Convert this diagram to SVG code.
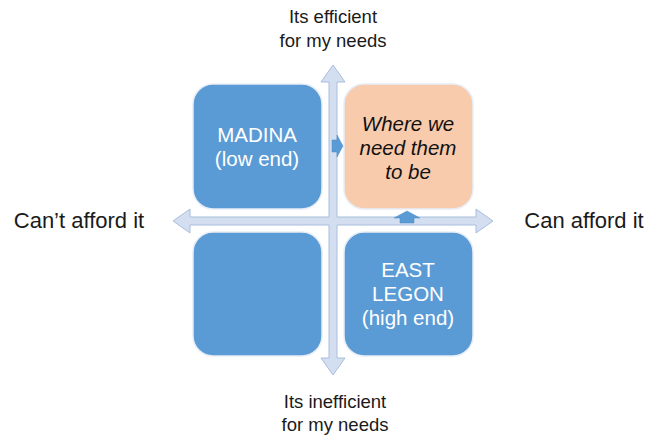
<svg xmlns="http://www.w3.org/2000/svg" width="648" height="437" viewBox="0 0 648 437">
<style>
.axis{fill:#D3DEF0;stroke:#A9BEDD;stroke-width:1}
.box{fill:#5B9BD5;stroke:#E8EEF7;stroke-width:1.5}
.goal{fill:#F8CBAD;stroke:#E8EEF7;stroke-width:1.5}
.pt{fill:#5B9BD5;stroke:#4A8AC6;stroke-width:0.5}
.lbl{font-family:"Liberation Sans",Arial,sans-serif;fill:#1a1a1a;text-anchor:middle}
.wt{font-family:"Liberation Sans",Arial,sans-serif;fill:#fff;font-size:20.5px;text-anchor:middle}
.it{font-family:"Liberation Sans",Arial,sans-serif;fill:#111;font-size:20.5px;font-style:italic;text-anchor:middle}
</style>
<rect width="648" height="437" fill="#fff"/>
<g id="connectors">
<polygon class="axis" points="333,65 345,82 337,82 337,217 476,217 476,209 493,221 476,233 476,225 337,225 337,358 345,358 333,375 321,358 329,358 329,225 190,225 190,233 173,221 190,209 190,217 329,217 329,82 321,82"/>
</g>
<g id="madina">
<rect class="box" x="193" y="84" width="129" height="125" rx="20"/>
<text class="wt" x="257" y="142">MADINA</text>
<text class="wt" x="257" y="166">(low end)</text>
</g>
<g id="goal">
<rect class="goal" x="344" y="84" width="129" height="125" rx="20"/>
<text class="it" x="408" y="131">Where we</text>
<text class="it" x="408" y="155">need them</text>
<text class="it" x="408" y="179">to be</text>
</g>
<g id="empty">
<rect class="box" x="193" y="232" width="129" height="124" rx="20"/>
</g>
<g id="eastlegon">
<rect class="box" x="344" y="232" width="129" height="124" rx="20"/>
<text class="wt" x="408" y="277">EAST</text>
<text class="wt" x="408" y="301">LEGON</text>
<text class="wt" x="408" y="325">(high end)</text>
</g>
<g id="move-right">
<polygon class="pt" points="332,140 337,140 337,135 343,146 337,157 337,152 332,152"/>
</g>
<g id="move-up">
<polygon class="pt" points="407,211 420,218 414,218 414,223 400,223 400,218 394,218"/>
</g>
<g id="labels">
<text class="lbl" x="333" y="23" font-size="18.5">Its efficient</text>
<text class="lbl" x="333" y="47" font-size="18.5">for my needs</text>
<text class="lbl" x="335" y="408" font-size="18.5">Its inefficient</text>
<text class="lbl" x="335" y="431" font-size="18.5">for my needs</text>
<text class="lbl" x="79" y="228" font-size="22">Can’t afford it</text>
<text class="lbl" x="584" y="228" font-size="22">Can afford it</text>
</g>
</svg>
